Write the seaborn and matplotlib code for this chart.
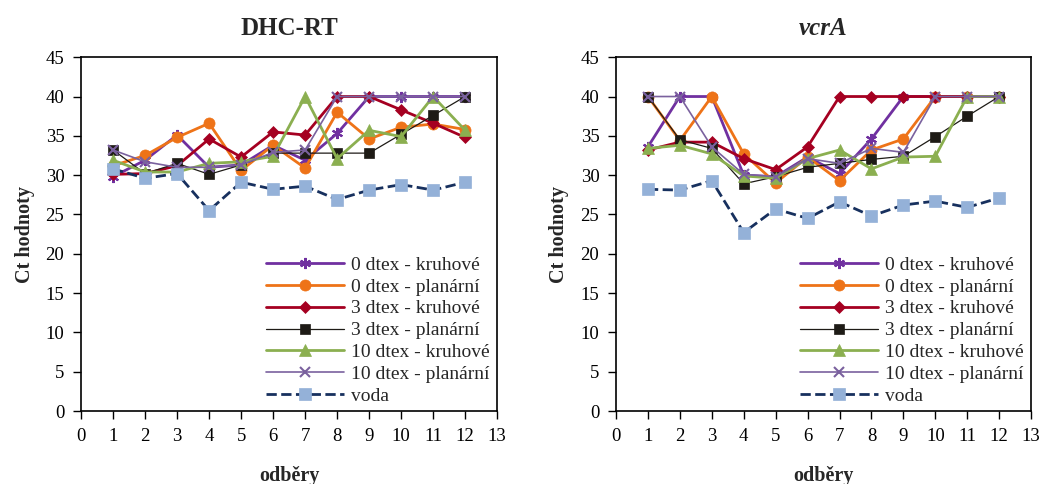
import numpy as np
import pandas as pd
import matplotlib
matplotlib.use("Agg")
import matplotlib.pyplot as plt
import seaborn as sns

# sampling points
odbery = list(range(1, 13))

labels = ["0 dtex - kruhové", "0 dtex - planární", "3 dtex - kruhové",
          "3 dtex - planární", "10 dtex - kruhové", "10 dtex - planární", "voda"]

# DHC-RT Ct values
dhc_0_kruh = [29.8, 31.9, 35.1, 31.0, 31.3, 33.8, 31.9, 35.3, 40.0, 40.0, 40.0, 40.0]
dhc_0_plan = [31.2, 32.5, 34.8, 36.6, 30.6, 33.8, 30.9, 38.0, 34.6, 36.1, 36.5, 35.8]
dhc_3_kruh = [30.1, 30.2, 31.2, 34.6, 32.3, 35.5, 35.1, 40.0, 40.0, 38.3, 36.6, 34.8]
dhc_3_plan = [33.2, 30.2, 31.5, 30.1, 31.3, 32.8, 32.8, 32.8, 32.8, 35.2, 37.6, 40.0]
dhc_10_kruh = [31.9, 30.4, 30.4, 31.5, 31.7, 32.4, 40.0, 32.1, 35.7, 34.9, 40.0, 35.7]
dhc_10_plan = [33.2, 31.7, 31.0, 31.0, 31.3, 32.9, 33.2, 40.0, 40.0, 40.0, 40.0, 40.0]
dhc_voda = [30.8, 29.6, 30.2, 25.5, 29.1, 28.2, 28.6, 26.9, 28.1, 28.8, 28.1, 29.1]

# vcrA Ct values
vcr_0_kruh = [33.6, 40.0, 40.0, 30.0, 29.8, 32.3, 30.2, 34.6, 40.0, 40.0, 40.0, 40.0]
vcr_0_plan = [40.0, 34.4, 40.0, 32.7, 29.0, 32.3, 29.3, 33.2, 34.6, 40.0, 40.0, 40.0]
vcr_3_kruh = [33.2, 34.2, 34.2, 32.1, 30.7, 33.6, 40.0, 40.0, 40.0, 40.0, 40.0, 40.0]
vcr_3_plan = [40.0, 34.5, 33.4, 28.9, 29.8, 31.0, 31.5, 32.0, 32.4, 34.9, 37.5, 40.0]
vcr_10_kruh = [33.4, 33.8, 32.7, 29.9, 29.6, 32.1, 33.2, 30.8, 32.3, 32.4, 40.0, 40.0]
vcr_10_plan = [40.0, 40.0, 33.6, 30.1, 29.8, 32.1, 31.5, 33.4, 32.9, 40.0, 40.0, 40.0]
vcr_voda = [28.2, 28.1, 29.3, 22.7, 25.7, 24.5, 26.6, 24.8, 26.2, 26.7, 25.9, 27.1]

styles = [
    dict(color="#7030A0", marker=(6, 2, 0), lw=2.0, ms=8, mfc="#7030A0", mec="#7030A0", ls="-"),
    dict(color="#EE7318", marker="o", lw=2.0, ms=8, mfc="#EE7318", mec="#EE7318", ls="-"),
    dict(color="#A50021", marker="D", lw=2.0, ms=6, mfc="#A50021", mec="#A50021", ls="-"),
    dict(color="#1E1B16", marker="s", lw=0.9, ms=7, mfc="#1E1B16", mec="#1E1B16", ls="-"),
    dict(color="#8BAF50", marker="^", lw=2.0, ms=8, mfc="#8BAF50", mec="#8BAF50", ls="-"),
    dict(color="#7A619E", marker="x", lw=1.2, ms=7, mfc="#7A619E", mec="#7A619E", ls="-"),
    dict(color="#17305E", marker="s", lw=2.0, ms=8, mfc="#94B1D8", mec="#94B1D8", ls="--"),
]

sns.set_theme(style="white")
plt.rcParams['font.family'] = ['Liberation Serif', 'DejaVu Serif']

fig = plt.figure(figsize=(10.43, 4.84), dpi=100)
ax1 = fig.add_axes([0.0777, 0.1508, 0.399, 0.731])
ax2 = fig.add_axes([0.5906, 0.1508, 0.398, 0.731])

panels = [
    (ax1, "DHC-RT", "normal",
     [dhc_0_kruh, dhc_0_plan, dhc_3_kruh, dhc_3_plan, dhc_10_kruh, dhc_10_plan, dhc_voda]),
    (ax2, "vcrA", "italic",
     [vcr_0_kruh, vcr_0_plan, vcr_3_kruh, vcr_3_plan, vcr_10_kruh, vcr_10_plan, vcr_voda]),
]

for ax, title, tstyle, series in panels:
    for lab, vals, st in zip(labels, series, styles):
        df = pd.DataFrame({"odbery": odbery, "ct": vals})
        sns.lineplot(data=df, x="odbery", y="ct", ax=ax, label=lab,
                     color=st["color"], marker=st["marker"], linewidth=st["lw"],
                     markersize=st["ms"], markerfacecolor=st["mfc"],
                     markeredgecolor=st["mec"], linestyle=st["ls"],
                     markeredgewidth=1.5 if st["marker"] in ("x",) or isinstance(st["marker"], tuple) else 0.5)
    ax.set_xlim(0, 13)
    ax.set_ylim(0, 45)
    ax.set_xticks(range(0, 14))
    ax.set_yticks(range(0, 46, 5))
    ax.tick_params(axis="both", direction="out", length=6, width=1, labelsize=13.5,
                   bottom=True, left=True, colors="black", pad=6)
    for sp in ax.spines.values():
        sp.set_color("black")
        sp.set_linewidth(1.2)
    ax.set_title(title, fontsize=18, fontweight="bold", fontstyle=tstyle, pad=16)
    ax.set_xlabel("odběry", fontsize=14.5, fontweight="bold", labelpad=15)
    ax.set_ylabel("Ct hodnoty", fontsize=14.5, fontweight="bold", labelpad=8)
    ax.legend(loc="lower right", frameon=False, fontsize=14, numpoints=1,
              handlelength=4.0, labelspacing=0.22, borderaxespad=0.0,
              handletextpad=0.35, bbox_to_anchor=(1.0, -0.005))

fig.savefig("out.png", dpi=100)
